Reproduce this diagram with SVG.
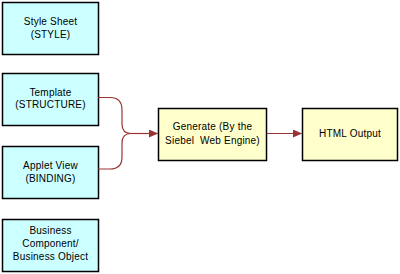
<svg xmlns="http://www.w3.org/2000/svg" width="400" height="274" viewBox="0 0 400 274">
<style>
.c{fill:#CCFFFF;stroke:#000;stroke-width:1.5}
.y{fill:#FFFFCC;stroke:#000;stroke-width:1.5}
text{font-family:"Liberation Sans",Arial,sans-serif;font-size:10px;fill:#000;text-anchor:middle;letter-spacing:0.2px}
.l{fill:none;stroke:#993333;stroke-width:1.2}
</style>
<defs>
<marker id="a" markerWidth="9" markerHeight="8" refX="9" refY="4" orient="auto" markerUnits="userSpaceOnUse">
<path d="M0,0 L9,4 L0,8 Z" fill="#993333"/>
</marker>
</defs>
<rect width="400" height="274" fill="#fff"/>
<g id="style">
<rect class="c" x="2.5" y="2.5" width="96" height="52"/>
<text x="50.5" y="25">Style Sheet</text>
<text x="50.5" y="38">(STYLE)</text>
</g>
<g id="template">
<rect class="c" x="2.5" y="73.5" width="96" height="52"/>
<text x="50.5" y="96">Template</text>
<text x="50.5" y="108">(STRUCTURE)</text>
</g>
<g id="applet">
<rect class="c" x="2.5" y="146.5" width="96" height="52"/>
<text x="50.5" y="169">Applet View</text>
<text x="50.5" y="182">(BINDING)</text>
</g>
<g id="business">
<rect class="c" x="2.5" y="219.5" width="96" height="52"/>
<text x="50.5" y="234">Business</text>
<text x="50.5" y="247">Component/</text>
<text x="50.5" y="260">Business Object</text>
</g>
<g id="generate">
<rect class="y" x="158.5" y="108.5" width="108" height="52"/>
<text x="212.5" y="129.5">Generate (By the</text>
<text x="212.5" y="143.5">Siebel&#160; Web Engine)</text>
</g>
<g id="html">
<rect class="y" x="302.5" y="108.5" width="95" height="52"/>
<text x="350" y="137">HTML Output</text>
</g>
<g id="connectors">
<path class="l" d="M98,97.5 H110 Q122,97.5 122,110 V124 Q122,133.5 131,133.5"/>
<path class="l" d="M98,169 H110 Q122,169 122,157 V143 Q122,133.5 131,133.5"/>
<path class="l" d="M131,133.5 H158" marker-end="url(#a)"/>
<path class="l" d="M267,133.5 H302" marker-end="url(#a)"/>
</g>
</svg>
